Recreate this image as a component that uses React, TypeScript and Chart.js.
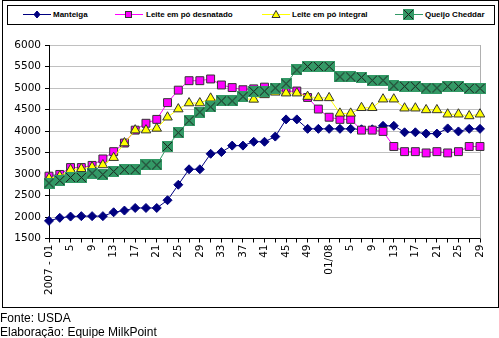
import React, { useEffect, useRef } from 'react';
import { Chart, registerables } from 'chart.js';
Chart.register(...registerables);

const categories = [
  '2007 - 01', '3', '5', '7', '9', '11', '13', '15', '17', '19', '21', '23', '25', '27', '29', '31',
  '33', '35', '37', '39', '41', '43', '45', '47', '49', '51',
  '01/08', '3', '5', '7', '9', '11', '13', '15', '17', '19', '21', '23', '25', '27', '29',
];

const manteiga = [
  1910, 1980, 2010, 2020, 2020, 2020, 2110, 2150, 2210, 2210, 2210, 2390, 2750, 3110, 3110, 3470,
  3510, 3660, 3660, 3750, 3750, 3870, 4270, 4270, 4050, 4050, 4050, 4050, 4050, 4040, 4040, 4120,
  4120, 3970, 3970, 3940, 3940, 4060, 3990, 4050, 4050,
];

const desnatado = [
  2950, 2990, 3150, 3150, 3200, 3350, 3520, 3720, 4020, 4180, 4270, 4660, 4950, 5170, 5170, 5210,
  5070, 5010, 4960, 4980, 5020, 4960, 4920, 4930, 4780, 4510, 4320, 4270, 4270, 4020, 4020, 3990,
  3640, 3520, 3520, 3490, 3520, 3490, 3520, 3640, 3640,
];

const integral = [
  2900, 2950, 3100, 3120, 3160, 3210, 3380, 3720, 4020, 4020, 4060, 4320, 4510, 4650, 4650, 4760,
  4700, 4710, 4750, 4735, 4840, 4900, 4880, 4880, 4800, 4770, 4770, 4410, 4410, 4540, 4540, 4740,
  4740, 4530, 4530, 4490, 4490, 4390, 4390, 4350, 4390,
];

const cheddar = [
  2790, 2850, 2920, 2920, 3020, 2990, 3060, 3100, 3100, 3210, 3210, 3640, 3960, 4240, 4440, 4560,
  4700, 4700, 4800, 4920, 4930, 5000, 5100, 5420, 5500, 5500, 5500, 5260, 5260, 5250, 5180, 5180,
  5050, 5040, 5040, 5000, 5000, 5040, 5040, 4990, 4990,
];

const seriesNames = ['Manteiga', 'Leite em pó desnatado', 'Leite em pó integral', 'Queijo Cheddar'];
const yTicks = [1500, 2000, 2500, 3000, 3500, 4000, 4500, 5000, 5500, 6000];

const NAVY = '#000080';
const MAGENTA = '#FF00FF';
const YELLOW = '#FFFF00';
const GREEN = '#339966';

function makeCheddarMarker() {
  const c = document.createElement('canvas');
  c.width = 11;
  c.height = 11;
  const g = c.getContext('2d')!;
  g.fillStyle = GREEN;
  g.fillRect(0, 0, 11, 11);
  g.strokeStyle = '#1a1a1a';
  g.lineWidth = 1;
  g.beginPath();
  g.moveTo(1, 1);
  g.lineTo(10, 10);
  g.moveTo(10, 1);
  g.lineTo(1, 10);
  g.stroke();
  return c;
}

const plotBorder = {
  id: 'plotBorder',
  beforeDatasetsDraw(chart: any) {
    const { ctx, chartArea: a } = chart;
    ctx.save();
    ctx.strokeStyle = '#b0b0b0';
    ctx.lineWidth = 1;
    ctx.beginPath();
    const x = Math.round(a.right) + 0.5;
    ctx.moveTo(x, a.top);
    ctx.lineTo(x, a.bottom);
    ctx.stroke();
    ctx.restore();
  },
};

function LegendIcon({ kind, color }: { kind: string; color: string }) {
  return (
    <svg width="28" height="12" style={{ display: 'block' }}>
      <line x1="0" y1="6.5" x2="28" y2="6.5" stroke={color} strokeWidth="1" />
      {kind === 'diamond' && <polygon points="14,3 17,6.5 14,10 11,6.5" fill={NAVY} stroke={NAVY} />}
      {kind === 'square' && <rect x="10.5" y="3.5" width="6" height="6" fill={MAGENTA} stroke="#333" />}
      {kind === 'triangle' && <polygon points="14,2.5 18,9.5 10,9.5" fill={YELLOW} stroke="#333" />}
      {kind === 'cheddar' && (
        <g>
          <rect x="8" y="1" width="11" height="11" fill={GREEN} />
          <line x1="9" y1="2" x2="18" y2="11" stroke="#1a1a1a" />
          <line x1="18" y1="2" x2="9" y2="11" stroke="#1a1a1a" />
        </g>
      )}
    </svg>
  );
}

export default function App() {
  const ref = useRef<HTMLCanvasElement>(null);

  useEffect(() => {
    document.body.style.margin = '0';
    const canvas = ref.current!;
    const cheddarMarker = makeCheddarMarker();
    const chart = new Chart(canvas, {
      type: 'line',
      data: {
        labels: categories,
        datasets: [
          {
            label: seriesNames[0],
            data: manteiga,
            borderColor: NAVY,
            backgroundColor: NAVY,
            borderWidth: 1,
            pointStyle: 'rectRot',
            pointRadius: 4.5,
            pointBorderColor: NAVY,
            pointBackgroundColor: NAVY,
            pointBorderWidth: 1,
            order: 3,
          },
          {
            label: seriesNames[1],
            data: desnatado,
            borderColor: MAGENTA,
            backgroundColor: MAGENTA,
            borderWidth: 1,
            pointStyle: 'rect',
            pointRadius: 5.6,
            pointBorderColor: '#333333',
            pointBackgroundColor: MAGENTA,
            pointBorderWidth: 1,
            order: 2,
          },
          {
            label: seriesNames[2],
            data: integral,
            borderColor: YELLOW,
            backgroundColor: YELLOW,
            borderWidth: 1,
            pointStyle: 'triangle',
            pointRadius: 5.5,
            pointBorderColor: '#333333',
            pointBackgroundColor: YELLOW,
            pointBorderWidth: 1,
            order: 1,
          },
          {
            label: seriesNames[3],
            data: cheddar,
            borderColor: GREEN,
            backgroundColor: GREEN,
            borderWidth: 1,
            pointStyle: cheddarMarker as any,
            pointRadius: 6,
            order: 0,
          },
        ],
      },
      options: {
        responsive: false,
        animation: false,
        devicePixelRatio: 1,
        layout: { padding: { top: 45, right: 19, left: 0, bottom: 0 } },
        plugins: { legend: { display: false }, tooltip: { enabled: false } },
        elements: { line: { tension: 0 } },
        scales: {
          x: {
            type: 'category',
            offset: false,
            grid: { drawOnChartArea: false, color: '#000', tickLength: 4, tickColor: '#000' },
            border: { color: '#000', width: 1 },
            ticks: {
              autoSkip: false,
              maxRotation: 90,
              minRotation: 90,
              padding: 2,
              color: '#000',
              font: { family: 'DejaVu Sans', size: 10.5 },
              callback: (_v: any, i: number) => (i % 2 === 0 ? categories[i] : ''),
            },
            afterFit: (s: any) => {
              s.height = 338 - 238.5;
            },
          },
          y: {
            min: 1500,
            max: 6000,
            afterBuildTicks: (s: any) => {
              s.ticks = yTicks.map((v) => ({ value: v }));
            },
            grid: { color: '#c0c0c0', tickLength: 4, tickColor: '#000' },
            border: { color: '#000', width: 1 },
            ticks: {
              padding: 4,
              color: '#000',
              font: { family: 'DejaVu Sans', size: 10.5 },
              callback: (v: any) => String(v),
            },
            afterFit: (s: any) => {
              s.width = 49;
            },
          },
        },
      },
      plugins: [plotBorder],
    });
    return () => chart.destroy();
  }, []);

  const legendItems = [
    { kind: 'diamond', color: NAVY, lineX: 22, textX: 52, name: seriesNames[0] },
    { kind: 'square', color: MAGENTA, lineX: 114, textX: 145, name: seriesNames[1] },
    { kind: 'triangle', color: YELLOW, lineX: 261, textX: 291, name: seriesNames[2] },
    { kind: 'cheddar', color: GREEN, lineX: 394, textX: 424, name: seriesNames[3] },
  ];

  return (
    <div style={{ position: 'absolute', left: 0, top: 0, width: 499, height: 338, background: '#fff', overflow: 'hidden' }}>
      <canvas ref={ref} width={499} height={338} style={{ position: 'absolute', left: 0, top: 0, width: 499, height: 338 }} />
      <div
        style={{
          position: 'absolute', left: 2, top: 0, width: 497, height: 308,
          border: '1px solid #000', boxSizing: 'border-box', pointerEvents: 'none',
        }}
      />
      <div
        style={{
          position: 'absolute', left: 7, top: 5, width: 488, height: 20,
          border: '1px solid #000', boxSizing: 'border-box', background: '#fff',
        }}
      >
        {legendItems.map((it) => (
          <React.Fragment key={it.name}>
            <div style={{ position: 'absolute', left: it.lineX - 7, top: 2 }}>
              <LegendIcon kind={it.kind} color={it.color} />
            </div>
            <div
              style={{
                position: 'absolute', left: it.textX - 7, top: 3, fontFamily: 'Liberation Sans',
                fontWeight: 'bold', fontSize: 8, lineHeight: '11px', color: '#000', whiteSpace: 'nowrap',
              }}
            >
              {it.name}
            </div>
          </React.Fragment>
        ))}
      </div>
      <div
        style={{
          position: 'absolute', left: 0, top: 311, fontFamily: 'Liberation Sans', fontSize: 12,
          lineHeight: '14px', color: '#000', whiteSpace: 'nowrap',
        }}
      >
        <div>Fonte: USDA</div>
        <div>Elaboração: Equipe MilkPoint</div>
      </div>
    </div>
  );
}
